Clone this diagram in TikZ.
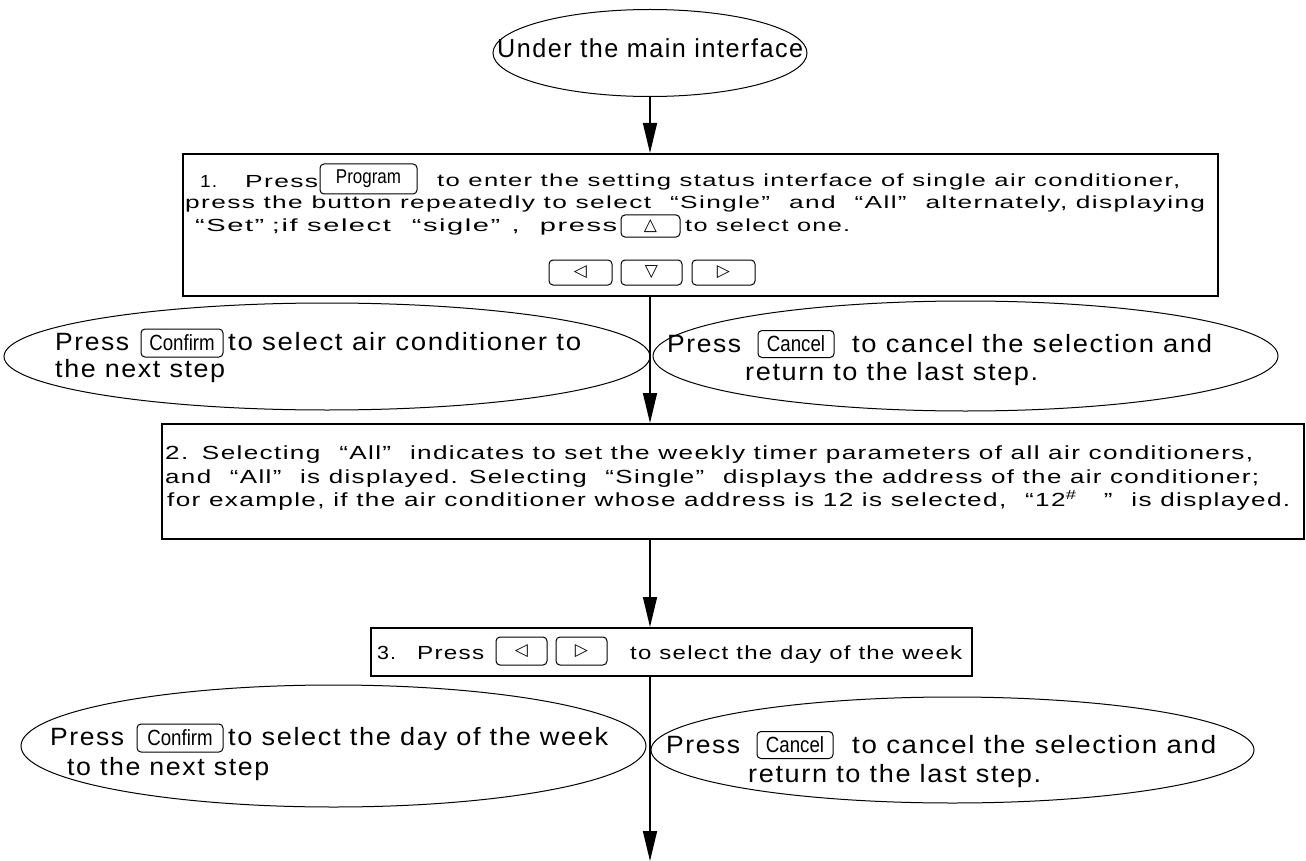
\documentclass[tikz,border=0pt]{standalone}
\usepackage{fontspec}
\usepackage{graphicx}
\setmainfont{Liberation Sans}
\newfontfamily\symfont{DejaVu Sans}
\newfontfamily\keyfont[FakeStretch=0.85]{Liberation Sans}
\newfontfamily\boxfont[LetterSpace=6,FakeStretch=1.15]{Liberation Sans}
\newfontfamily\ovalfont[LetterSpace=6]{Liberation Sans}
\usetikzlibrary{arrows.meta,shapes.geometric}
\newcommand{\fitw}[2]{\resizebox{#1pt}{\height}{#2}}
\newcommand{\oq}{\hspace{0.45em}“}
\newcommand{\cq}{”\hspace{0.45em}}
\begin{document}
\begin{tikzpicture}[x=1pt,y=-1pt,
 box/.style={draw,line width=2pt,inner sep=0pt},
 oval/.style={draw,ellipse,line width=1pt,inner sep=0pt},
 key/.style={draw,rectangle,rounded corners=4pt,line width=1pt,inner sep=0pt},
 flow/.style={line width=1.6pt,-{Triangle[length=30pt,width=14pt]}},
 seg/.style={inner sep=0pt,anchor=base west},
 bt/.style={seg,font=\boxfont\fontsize{17.5}{20}\selectfont},
 bt2/.style={seg,font=\boxfont\fontsize{19}{22}\selectfont},
 ot/.style={seg,font=\ovalfont\fontsize{25}{28}\selectfont},
 kt/.style={font=\keyfont\fontsize{22}{22}\selectfont},
 sym/.style={font=\symfont\fontsize{17}{17}\selectfont},
 ]
\useasboundingbox (0,0) rectangle (1306,861);
% start
\node[oval,minimum width=314pt,minimum height=87pt] (start) at (650,53) {};
\node[seg,font=\ovalfont\fontsize{26}{30}\selectfont] (ts) at (497,58) {\fitw{306}{Under the main interface}};

% box 1
\node[box,minimum width=1035pt,minimum height=142pt,anchor=north west] (b1) at (182,153) {};
\node[bt] (t1a) at (200,187) {\fitw{17}{1.}};
\node[bt] (t1b) at (245,187) {\fitw{73}{Press}};
\node[key,minimum width=97pt,minimum height=30pt,font=\keyfont\fontsize{20}{20}\selectfont] (kprog) at (368.5,179) {\raisebox{3pt}{Program}};
\node[bt] (t1c) at (437,187) {\fitw{743}{to enter the setting status interface of single air conditioner,}};
\node[bt] (t1d) at (185,209) {\fitw{1020}{press the button repeatedly to select \oq Single\cq\ and \oq All\cq\ alternately, displaying}};
\node[bt] (t1e) at (195,231) {\fitw{422}{“Set”\hspace{0.3em};if select \oq sigle\cq,\hspace{0.8em}press}};
\node[key,minimum width=59pt,minimum height=22pt,sym] (kup) at (650.5,226) {△};
\node[bt] (t1f) at (685,231) {\fitw{165}{to select one.}};
\node[key,minimum width=63pt,minimum height=25pt,sym] (kl1) at (580.5,272.5) {◁};
\node[key,minimum width=61pt,minimum height=25pt,sym] (kd1) at (651.5,272.5) {▽};
\node[key,minimum width=63pt,minimum height=25pt,sym] (kr1) at (723.5,272.5) {▷};

% choice ovals 1
\node[oval,minimum width=646pt,minimum height=107pt] (c1) at (327,356.5) {};
\node[ot] (tc1a) at (55,350) {\fitw{74}{Press}};
\node[key,minimum width=82pt,minimum height=28pt,kt] (kc1) at (182,343) {Confirm};
\node[ot] (tc1b) at (228,350) {\fitw{353}{to select air conditioner to}};
\node[ot] (tc1c) at (55,377) {\fitw{170}{the next step}};
\node[oval,minimum width=625pt,minimum height=110pt] (x1) at (965.5,356) {};
\node[ot] (tx1a) at (667,352) {\fitw{74}{Press}};
\node[key,minimum width=76pt,minimum height=27pt,kt] (kx1) at (796,344) {Cancel};
\node[ot] (tx1b) at (852,352) {\fitw{360}{to cancel the selection and}};
\node[ot] (tx1c) at (745,380) {\fitw{293}{return to the last step.}};

% box 2
\node[box,minimum width=1142pt,minimum height=115pt,anchor=north west] (b2) at (161,423) {};
\node[bt2] (t2a) at (165,459) {\fitw{1088}{2.\hspace{0.6em}Selecting \oq All\cq\ indicates to set the weekly timer parameters of all air conditioners,}};
\node[bt2] (t2b) at (165,483) {\fitw{1094}{and \oq All\cq\ is displayed. Selecting \oq Single\cq\ displays the address of the air conditioner;}};
\node[bt2] (t2c) at (167,506) {\fitw{1123}{for example, if the air conditioner whose address is 12 is selected, \oq 12\textsuperscript{\#}\hspace{1.2em}\cq\ is displayed.}};

% box 3
\node[box,minimum width=601pt,minimum height=48pt,anchor=north west] (b3) at (370,627) {};
\node[bt2] (t3a) at (377,659) {\fitw{19}{3.}};
\node[bt2] (t3b) at (417,659) {\fitw{67}{Press}};
\node[key,minimum width=51pt,minimum height=28pt,sym] (kl3) at (521.5,651) {◁};
\node[key,minimum width=51pt,minimum height=28pt,sym] (kr3) at (581.5,651) {▷};
\node[bt2] (t3c) at (630,659) {\fitw{332}{to select the day of the week}};

% choice ovals 2
\node[oval,minimum width=625pt,minimum height=122pt] (c2) at (333.5,746) {};
\node[ot] (tc2a) at (50,745) {\fitw{74}{Press}};
\node[key,minimum width=86pt,minimum height=28pt,kt] (kc2) at (180,738) {Confirm};
\node[ot] (tc2b) at (228,745) {\fitw{380}{to select the day of the week}};
\node[ot] (tc2c) at (67,775) {\fitw{202}{to the next step}};
\node[oval,minimum width=603pt,minimum height=106pt] (x2) at (952.5,750) {};
\node[ot] (tx2a) at (666,753) {\fitw{74}{Press}};
\node[key,minimum width=76pt,minimum height=27pt,kt] (kx2) at (795,745) {Cancel};
\node[ot] (tx2b) at (852,753) {\fitw{364}{to cancel the selection and}};
\node[ot] (tx2c) at (748,782) {\fitw{293}{return to the last step.}};

\coordinate (end) at (650,861);
\draw[flow] (start.south) -- (start.south |- b1.north);
\draw[flow] (b1.south -| start.south) -- (b2.north -| start.south);
\draw[flow] (b2.south -| start.south) -- (b3.north -| start.south);
\draw[flow] (b3.south -| start.south) -- (end);
\end{tikzpicture}
\end{document}
